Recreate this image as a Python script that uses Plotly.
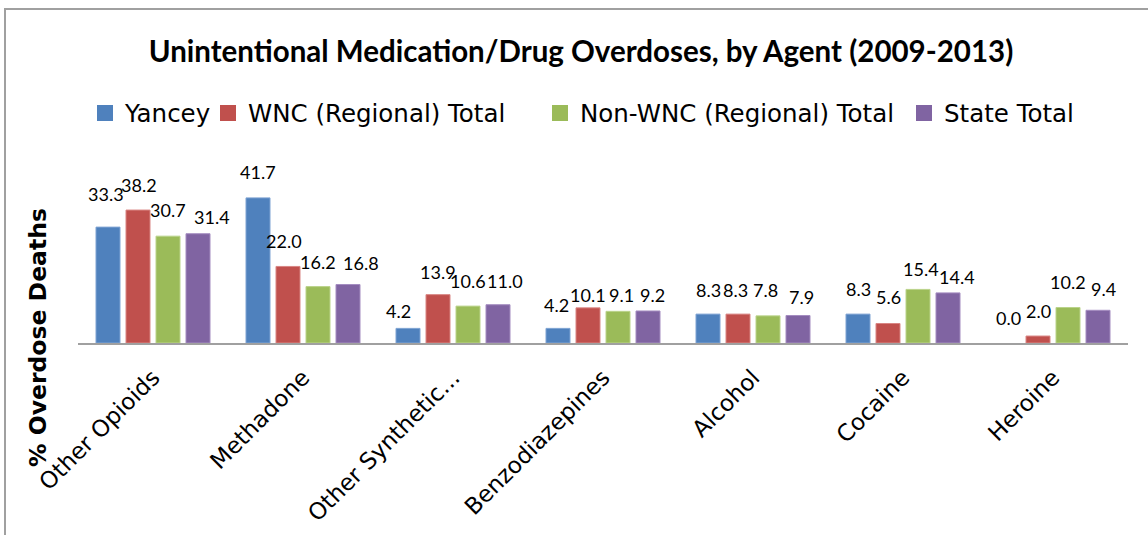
import plotly.graph_objects as go

categories = ["Other Opioids", "Methadone", "Other Synthetic...", "Benzodiazepines", "Alcohol", "Cocaine", "Heroine"]
series_names = ["Yancey", "WNC (Regional) Total", "Non-WNC (Regional) Total", "State Total"]
yancey = [33.3, 41.7, 4.2, 4.2, 8.3, 8.3, 0.0]
wnc = [38.2, 22.0, 13.9, 10.1, 8.3, 5.6, 2.0]
non_wnc = [30.7, 16.2, 10.6, 9.1, 7.8, 15.4, 10.2]
state = [31.4, 16.8, 11.0, 9.2, 7.9, 14.4, 9.4]
series_values = [yancey, wnc, non_wnc, state]

# ---- style ----
colors = ["#4F81BD", "#C0504D", "#9BBB59", "#8064A2"]
edge_colors = ["#7EA3D3", "#D98583", "#BAD38A", "#A48CC0"]
TITLE_FONT = "Lato"
LABEL_FONT = "Lato"
TEXT_FONT = "DejaVu Sans"

W, H = 1148, 535
L, R, T, B = 78, 20, 169, 192
plot_w = W - L - R
plot_h = H - T - B

# data-label nudges in pixels (Excel-like label placement), per series x category
label_dx = [
    [-2, 0, -10, -1.5, 0, 0, 0],
    [1, -4, 0, 0, -3, 0, 0],
    [0, 0, 0, 3.5, -3, 3, 0],
    [14, 13, 7, 4, 3.5, 8.5, 5.5],
]
label_gap = [
    [25, 18, 9, 15, 16, 17, 17],
    [17, 17, 15, 5, 16, 18.5, 17],
    [18, 17, 17, 8, 18, 12, 17.5],
    [9, 14, 16, 8, 10.5, 8, 13],
]
legend_x_px = [85, 208, 540, 904]

fig = go.Figure()
for i, (name, vals, c, ec) in enumerate(zip(series_names, series_values, colors, edge_colors)):
    fig.add_trace(go.Bar(
        x=categories, y=vals, name=name, showlegend=False,
        marker=dict(color=c, line=dict(color=ec, width=[1 if v > 0 else 0 for v in vals])),
    ))
# legend entries with larger square markers, one legend per entry
for i, (name, c) in enumerate(zip(series_names, colors)):
    fig.add_trace(go.Scatter(
        x=[None], y=[None], mode="markers", name=name,
        marker=dict(symbol="square", size=16, color=c),
        legend="legend" if i == 0 else f"legend{i + 1}",
    ))

# data labels
pitch = plot_w / len(categories) * 0.8 / len(series_names)
for j, vals in enumerate(series_values):
    for k, (cat, v) in enumerate(zip(categories, vals)):
        fig.add_annotation(
            x=cat, y=v, text=f"{v:.1f}", showarrow=False,
            xshift=(j - 1.5) * pitch + label_dx[j][k], yshift=label_gap[j][k] - 5,
            yanchor="bottom",
            font=dict(family=LABEL_FONT, size=18, color="#000000"),
        )

# y axis title
fig.add_annotation(
    xref="paper", yref="paper",
    x=(37.5 - L) / plot_w, y=(H - B - 337.5) / plot_h,
    text="<b>% Overdose Deaths</b>", textangle=-90, showarrow=False,
    font=dict(family=TEXT_FONT, size=23.5, color="#000000"),
    xanchor="center", yanchor="middle",
)

# chart border
fig.add_shape(
    type="rect", xref="paper", yref="paper",
    x0=(5 - L) / plot_w, x1=(W + 20 - L) / plot_w,
    y0=(H - B - (H + 20)) / plot_h, y1=(H - B - 9) / plot_h,
    line=dict(color="#A0A0A0", width=2), layer="below",
)

legend_common = dict(
    orientation="h", y=1 - 113 / H, xref="container", yref="container",
    xanchor="left", yanchor="middle",
    font=dict(family=TEXT_FONT, size=24.5, color="#000000"),
    bgcolor="rgba(0,0,0,0)",
)

fig.update_layout(
    width=W, height=H,
    margin=dict(l=L, r=R, t=T, b=B, autoexpand=False),
    paper_bgcolor="white", plot_bgcolor="white",
    barmode="group", bargap=0.2, bargroupgap=0.2,
    title=dict(
        text="<b>Unintentional Medication/Drug Overdoses, by Agent (2009-2013)</b>",
        x=581 / W, y=1 - 52 / H, xref="container", yref="container",
        xanchor="center", yanchor="middle",
        font=dict(family=TITLE_FONT, size=29.5, color="#000000"),
    ),
    legend=dict(x=legend_x_px[0] / W, **legend_common),
    legend2=dict(x=legend_x_px[1] / W, **legend_common),
    legend3=dict(x=legend_x_px[2] / W, **legend_common),
    legend4=dict(x=legend_x_px[3] / W, **legend_common),
    xaxis=dict(
        showline=True, linecolor="#A0A0A0", linewidth=2,
        tickangle=-45, ticks="", showgrid=False,
        tickfont=dict(family=TEXT_FONT, size=23, color="#000000"),
        ticklabelstandoff=10,
    ),
    yaxis=dict(
        range=[0, 50], showticklabels=False, showgrid=False,
        zeroline=False, showline=False, ticks="",
    ),
)

fig.write_html(
    "out.html",
    config={"displayModeBar": False},
    post_script="document.body.style.margin='0';",
)
